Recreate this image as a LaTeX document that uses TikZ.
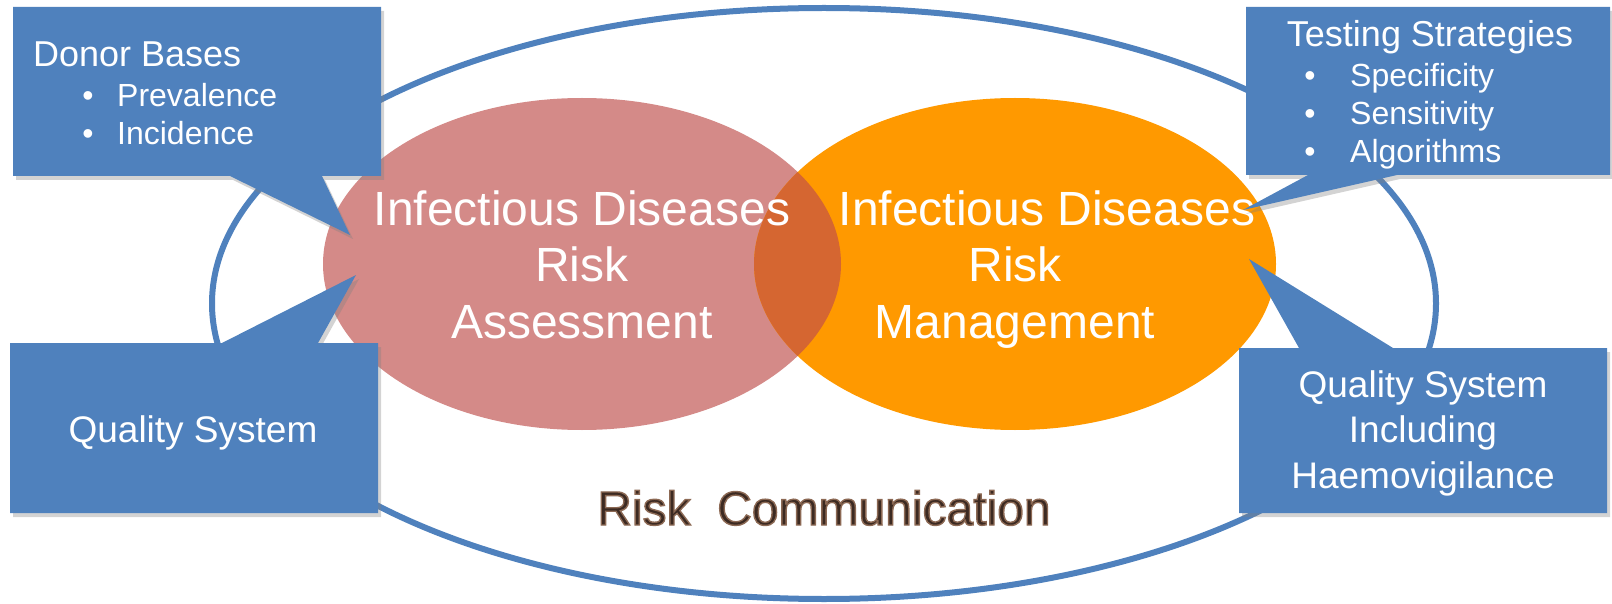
\documentclass[tikz,border=0pt]{standalone}
\usepackage{fontspec}
\setmainfont{Liberation Sans}
\usepackage{tikz}
\usepackage{xcolor}
\usetikzlibrary{shadows}
\definecolor{boxblue}{RGB}{79,129,189}
\definecolor{assesspink}{RGB}{212,138,136}
\definecolor{manageorange}{RGB}{255,153,0}
\definecolor{lensorange}{RGB}{213,102,49}
\definecolor{commbrown}{RGB}{60,42,34}
\tikzset{
CalloutBox/.style={
 fill=boxblue, 
 drop shadow={opacity=0.35, shadow xshift=3pt, shadow yshift=-4pt}
 },
BoxTitle/.style={
 text=white, 
 inner sep=0pt, 
 font=\fontsize{36}{43}\selectfont
 },
BoxItem/.style={
 text=white, 
 inner sep=0pt, 
 font=\fontsize{32}{38}\selectfont
 },
BoxText/.style={
 text=white, 
 inner sep=0pt, 
 align=center, 
 font=\fontsize{37}{45.5}\selectfont
 },
EllipseText/.style={
 text=white, 
 inner sep=0pt, 
 align=center, 
 font=\fontsize{48}{56.5}\selectfont
 }
}
% outlined text (fill and stroke)
\newcommand{\OutlinedText}[1]{\special{pdf:code q 2 Tr 1.4 w 0.55 0.41 0.33 RG}#1\special{pdf:code Q}}

\begin{document}
\begin{tikzpicture}[x=1pt,y=-1pt]
\useasboundingbox (0,0) rectangle (1612,604);
\draw[boxblue, line width=6pt] (824,303.5) ellipse [x radius=612, y radius=295.5];
\fill[assesspink] (582,264) ellipse [x radius=259, y radius=166];
\fill[manageorange] (1015,264) ellipse [x radius=261, y radius=166];
\begin{scope}
\clip (582,264) ellipse [x radius=259, y radius=166];
\fill[lensorange] (1015,264) ellipse [x radius=261, y radius=166];
\end{scope}
% base anchor sits on the last line
\node[EllipseText, anchor=base] (assess) at (582,338) {Infectious Diseases\\Risk\hspace*{13pt}\\Assessment};
\node[EllipseText, anchor=base] (manage) at (1015,338) {\hspace*{64pt}Infectious Diseases\\Risk\hspace*{13pt}\\Management};
\node[font=\fontsize{48}{56}\selectfont, text=commbrown, inner sep=0pt, anchor=base] (riskcomm) at (824,525) {\OutlinedText{Risk\ \ Communication}};
% callouts
\fill[CalloutBox] (13,7) -- (381,7) -- (381,176) -- (322,176) -- (350,235) -- (230,176) -- (13,176) -- cycle;
\fill[CalloutBox] (1246,7) -- (1610,7) -- (1610,175) -- (1397,175) -- (1243,210) -- (1308,175) -- (1246,175) -- cycle;
\fill[CalloutBox] (10,343) -- (222,343) -- (356,275) -- (318,343) -- (378,343) -- (378,513) -- (10,513) -- cycle;
\fill[CalloutBox] (1239,348) -- (1299,348) -- (1249,259) -- (1393,348) -- (1607,348) -- (1607,513) -- (1239,513) -- cycle;
\node[BoxTitle, anchor=base west] (donor) at (33,67) {Donor Bases};
\node[BoxItem, anchor=base] (dot1) at (88,107) {\textbullet};
\node[BoxItem, anchor=base west] (prevalence) at (117,107) {Prevalence};
\node[BoxItem, anchor=base] (dot2) at (88,145) {\textbullet};
\node[BoxItem, anchor=base west] (incidence) at (117,145) {Incidence};
\node[BoxTitle, anchor=base] (testing) at (1430,47) {Testing Strategies};
\node[BoxItem, anchor=base] (dot3) at (1310,87) {\textbullet};
\node[BoxItem, anchor=base west] (specificity) at (1350,87) {Specificity};
\node[BoxItem, anchor=base] (dot4) at (1310,125) {\textbullet};
\node[BoxItem, anchor=base west] (sensitivity) at (1350,125) {Sensitivity};
\node[BoxItem, anchor=base] (dot5) at (1310,163) {\textbullet};
\node[BoxItem, anchor=base west] (algorithms) at (1350,163) {Algorithms};
\node[BoxText, anchor=base] (quality) at (193,442) {Quality System};
\node[BoxText, anchor=base] (haemo) at (1423,488) {Quality System\\Including\\Haemovigilance};
\end{tikzpicture}
\end{document}
